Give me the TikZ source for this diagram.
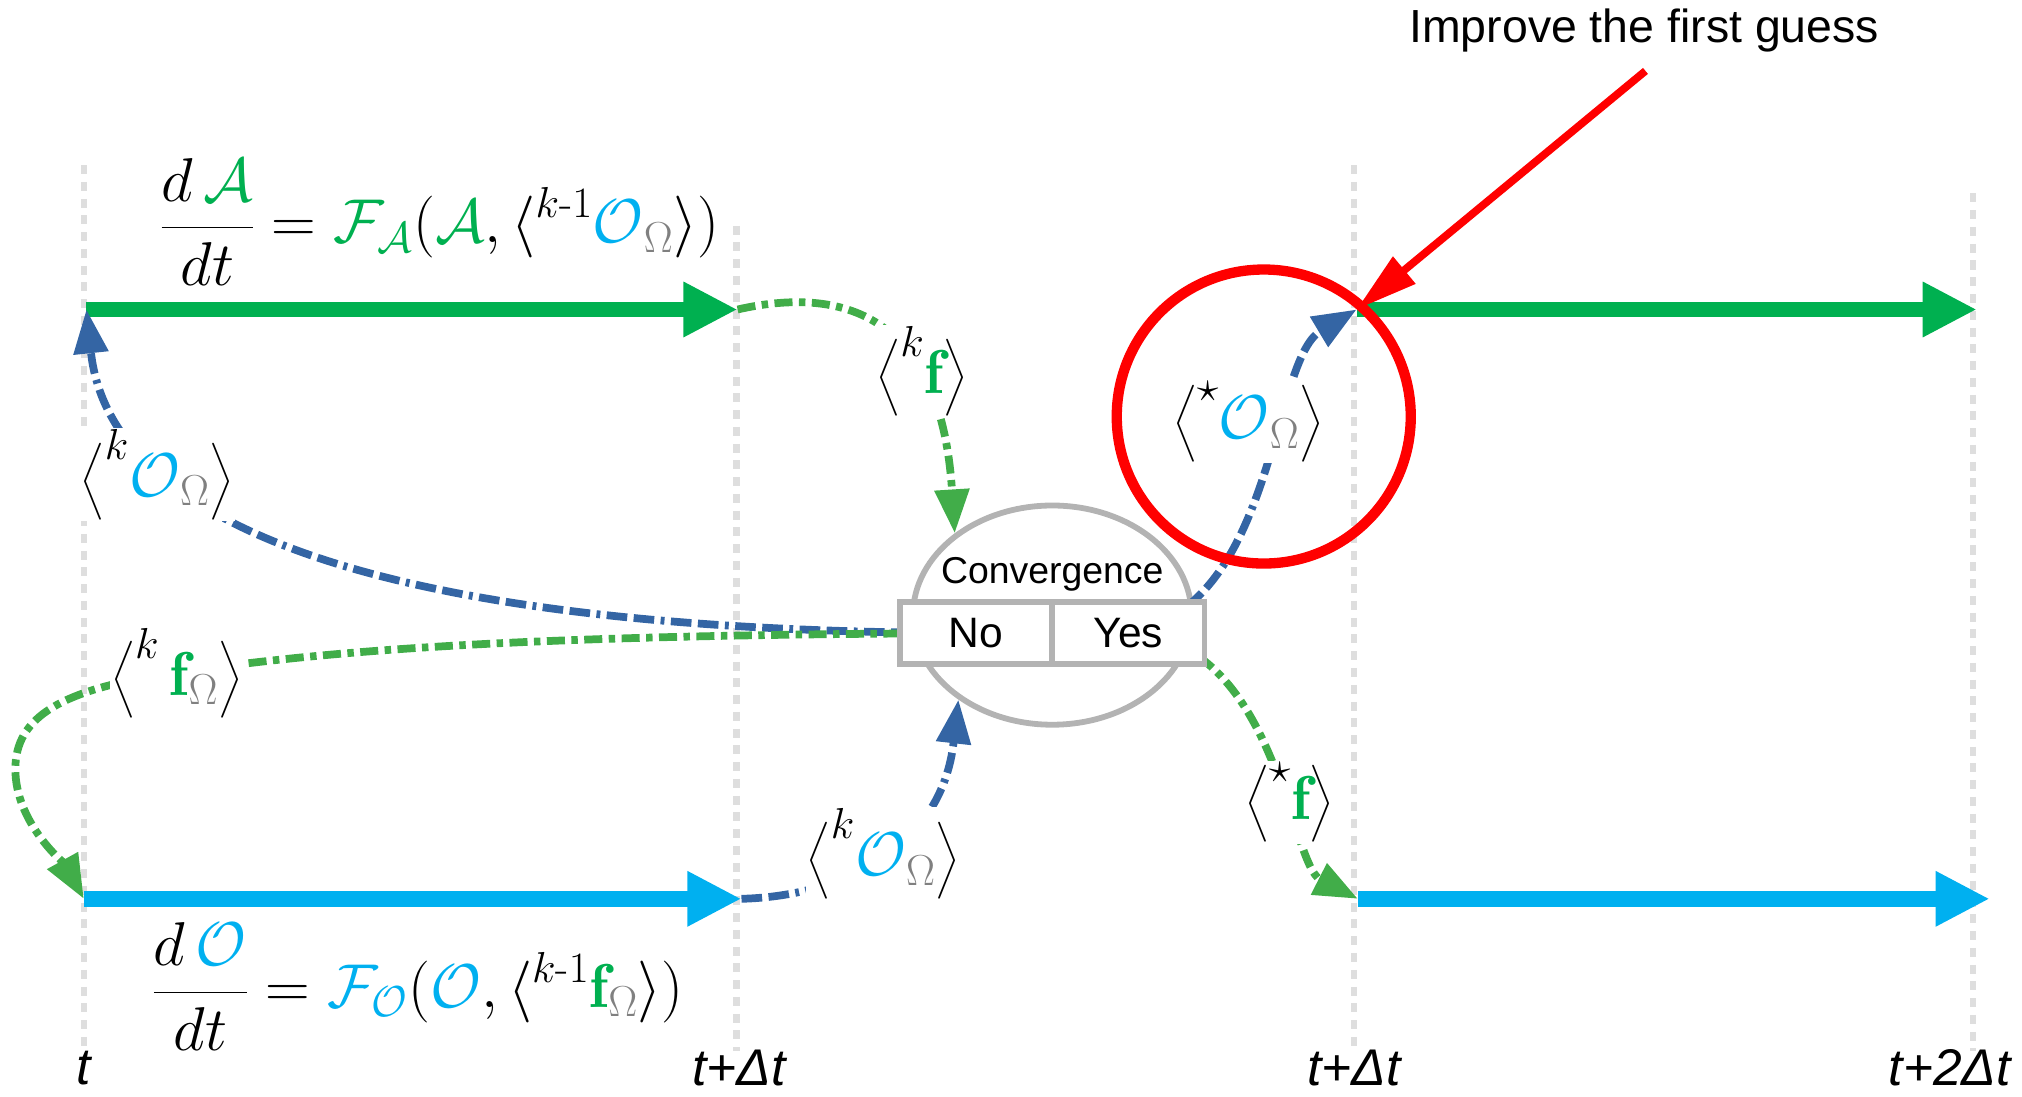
\RequirePackage{fix-cm}
\documentclass[tikz,border=0pt]{standalone}
\usepackage{amsmath}
\usepackage{fontspec}
\newfontfamily\arial{Liberation Sans}
\usetikzlibrary{arrows.meta,shapes.geometric}
\definecolor{G}{HTML}{00B050}
\definecolor{C}{HTML}{00B0F0}
\definecolor{CB}{HTML}{3465A4}
\definecolor{CG}{HTML}{41AD49}
\definecolor{GR}{HTML}{808080}
\definecolor{LG}{HTML}{DEDEDE}
\definecolor{CV}{HTML}{B3B3B3}
\newcommand\Om{{\color{GR}\Omega}}
\tikzset{
 tline/.style={LG, line width=5pt, dash pattern=on 7pt off 6pt},
 bigarrow/.style={line width=12pt, -{Triangle[length=42pt,width=40pt]}},
 lab/.style={fill=white, inner sep=1pt, font=\fontsize{48}{54}\selectfont},
 eq/.style={inner sep=0pt, font=\fontsize{48}{54}\selectfont},
 bcon/.style={CB, line width=6pt, dash pattern=on 16pt off 5pt on 16pt off 5pt on 3pt off 5pt, -{Triangle[length=34pt,width=26pt]}},
 gcon/.style={CG, line width=6pt, dash pattern=on 14pt off 5pt on 5pt off 5pt, -{Triangle[length=34pt,width=26pt]}},
 tlab/.style={font=\arial\itshape\fontsize{40}{44}\selectfont},
 boxst/.style={draw=CV, line width=4.5pt, fill=white, minimum width=118pt, minimum height=48pt, inner sep=0pt, font=\arial\fontsize{33}{36}\selectfont},
}
\begin{document}
\begin{tikzpicture}[x=1pt,y=-1pt]
\useasboundingbox (0,0) rectangle (1568,850);
% time lines
\draw[tline] (65,128) -- (65,815);
\draw[tline] (571,175) -- (571,815);
\draw[tline] (1050,128) -- (1050,815);
\draw[tline] (1530,150) -- (1530,815);
% coordinates
\coordinate (A0) at (67,240);
\coordinate (A1) at (572,240);
\coordinate (B0) at (1052,240);
\coordinate (B1) at (1533,240);
\coordinate (C0) at (65,697);
\coordinate (C1) at (575,697);
\coordinate (D0) at (1053,697);
\coordinate (D1) at (1543,697);
\coordinate (rs) at (1276,55);
% big arrows
\draw[G, bigarrow] (A0) -- (A1);
\draw[G, bigarrow] (B0) -- (B1);
\draw[C, bigarrow] (C0) -- (C1);
\draw[C, bigarrow] (D0) -- (D1);
% convergence
\node[ellipse, draw=CV, line width=4.5pt, minimum width=216pt, minimum height=170pt] (conv) at (816,477) {};
\node[font=\arial\fontsize{29}{32}\selectfont] (convtxt) at (816,445) {Convergence};
% connectors
\draw[gcon] (A1) .. controls (660,220) and (730,250) .. (conv.140);
\draw[bcon] (757,491) .. controls (300,490) and (85,410) .. (A0);
\draw[gcon] (757,491) .. controls (400,492) and (250,505) .. (135,522) .. controls (40,535) and (10,560) .. (12,600) .. controls (14,640) and (50,670) .. (C0);
\draw[bcon] (C1) .. controls (650,695) and (730,660) .. (conv.-138);
\draw[bcon] (875,491) .. controls (990,470) and (985,280) .. (B0);
\draw[gcon] (875,491) .. controls (990,495) and (1000,670) .. (D0);
\node[boxst] (no) at (757,491) {No};
\node[boxst] (yes) at (875,491) {Yes};
% labels
\node[lab] (kf) at (715,288) {$\bigl\langle^{k}{\color{G}\mathbf{f}}\bigr\rangle$};
\node[lab] (sO) at (968,327) {$\bigl\langle^{\star}{\color{C}\mathcal{O}}_{\Om}\bigr\rangle$};
\node[lab] (kO1) at (122,368) {$\bigl\langle^{k}{\color{C}\mathcal{O}}_{\Om}\bigr\rangle$};
\node[lab] (kfO) at (137,522) {$\bigl\langle^{k}\,{\color{G}\mathbf{f}}_{\Om}\bigr\rangle$};
\node[lab] (sf) at (1000,622) {$\bigl\langle^{\star}{\color{G}\mathbf{f}}\bigr\rangle$};
\node[lab] (kO2) at (685,662) {$\bigl\langle^{k}{\color{C}\mathcal{O}}_{\Om}\bigr\rangle$};
% equations
\node[eq, anchor=west] (eqA) at (124,172) {$\displaystyle\frac{d\,{\color{G}\mathcal{A}}}{dt}={\color{G}\mathcal{F}_{\mathcal{A}}}({\color{G}\mathcal{A}},\langle^{k\text{-}1}{\color{C}\mathcal{O}}_{\Om}\rangle)$};
\node[eq, anchor=west] (eqO) at (118,765) {$\displaystyle\frac{d\,{\color{C}\mathcal{O}}}{dt}={\color{C}\mathcal{F}_{\mathcal{O}}}({\color{C}\mathcal{O}},\langle^{k\text{-}1}{\color{G}\mathbf{f}}_{\Om}\rangle)$};
% red highlight
\node[circle, draw=red, line width=8pt, minimum size=228pt] (redc) at (980,323) {};
\node[font=\arial\fontsize{36}{40}\selectfont] (imp) at (1275,24) {Improve the first guess};
\draw[red, line width=6pt, -{Triangle[length=48pt,width=26pt]}] (rs) -- (B0);
% time labels
\node[tlab] (t0) at (65,828) {t};
\node[tlab] (t1) at (573,828) {t+Δt};
\node[tlab] (t2) at (1050,828) {t+Δt};
\node[tlab] (t3) at (1512,828) {t+2Δt};
\end{tikzpicture}
\end{document}
